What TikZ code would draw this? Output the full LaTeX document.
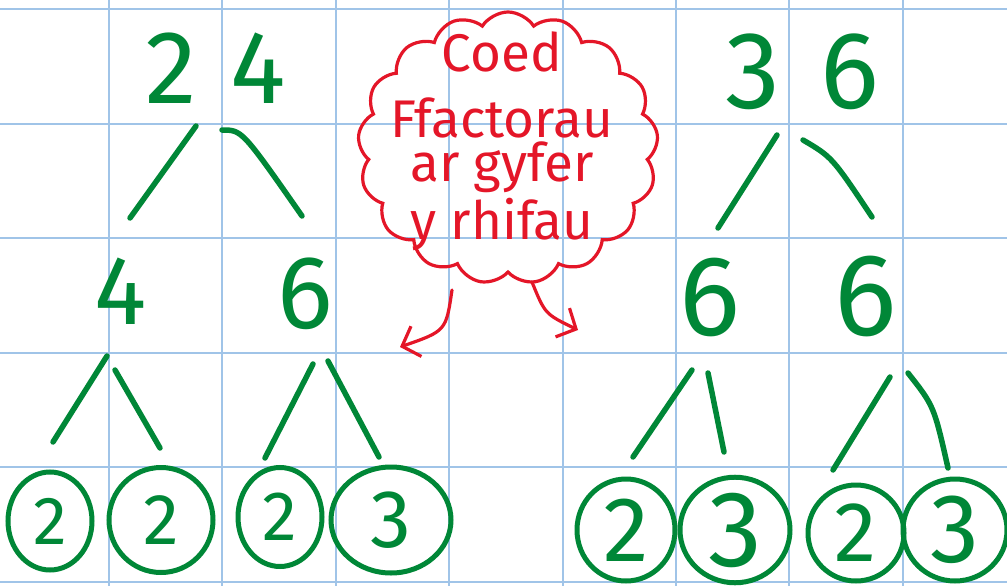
\documentclass[tikz,border=0pt]{standalone}
\usepackage{fontspec}
\setmainfont{Fira Sans}
\usetikzlibrary{shapes.geometric,shapes.symbols,arrows.meta,calc}
\definecolor{gridblue}{RGB}{160,196,232}
\definecolor{pen}{RGB}{0,135,55}
\definecolor{redpen}{RGB}{228,22,40}
\begin{document}
\begin{tikzpicture}[x=1pt,y=-1pt,
  gridline/.style={draw=gridblue, line width=2pt},
  num/.style={text=pen, inner sep=0pt, font=\fontsize{#1}{#1}\selectfont},
  branch/.style={draw=pen, line width=5.5pt, line cap=round},
  leaf/.style n args={3}{ellipse, draw=pen, line width=5pt, inner sep=0pt,
     minimum width=#1, minimum height=#2, text=pen, font=\fontsize{#3}{#3}\selectfont},
  redline/.style={draw=redpen, line width=3.2pt, line cap=round, line join=round},
  barb/.style={-{Straight Barb[length=15pt,width=32pt]}}]
\fill[white] (0,0) rectangle (1007,586);
\useasboundingbox (0,0) rectangle (1007,586);
% grid
\foreach \x in {109,222.4,335.8,449.2,562.6,676,789.4,902.8}
  \draw[gridline] (\x,0) -- (\x,586);
\foreach \y in {9,123.6,238.2,352.8,467.4,582}
  \draw[gridline] (0,\y) -- (1007,\y);

% left tree
\node[num=104] (t24) at (216,68) {2\kern34pt4};
\node[num=98] (n4) at (121,291) {4};
\node[num=104] (n6a) at (305,294) {6};
\node[leaf={84pt}{98pt}{68}] (l1) at (50,521) {2};
\node[leaf={104pt}{105pt}{72}] (l2) at (161,520) {2};
\node[leaf={84pt}{99pt}{70}] (l3) at (280,517) {2};
\node[leaf={120pt}{106pt}{82}] (l4) at (391,520) {3};

\draw[branch] ($(t24)+(-20,58)$) -- ($(n4)+(9,-73)$);
\draw[branch] ($(t24)+(6,62)$) .. controls ($(t24)+(26,62)$) .. ($(n6a)+(-3,-78)$);
\draw[branch] ($(n4)+(-14,65)$) -- ($(l1)+(3,-79)$);
\draw[branch] ($(n4)+(-6,79)$) -- ($(l2)+(-1,-72)$);
\draw[branch] ($(n6a)+(8,70)$) -- ($(l3)+(-15,-59)$);
\draw[branch] ($(n6a)+(23,67)$) -- ($(l4)+(-12,-63)$);

% right tree
\node[num=110] (t36) at (802,72) {3\kern40pt6};
\node[num=114] (n6b) at (710,297) {6};
\node[num=117] (n6c) at (866,296) {6};
\node[leaf={98pt}{102pt}{92}] (r1) at (626,530) {2};
\node[leaf={110pt}{100pt}{108}] (r2) at (735,530) {3};
\node[leaf={96pt}{96pt}{85}] (r3) at (856,533) {2};
\node[leaf={104pt}{102pt}{98}] (r4) at (955,530) {3};

\draw[branch] ($(t36)+(-25,63)$) -- ($(n6b)+(8,-69)$);
\draw[branch] ($(t36)+(1,68)$) .. controls ($(t36)+(30,85)$) .. ($(n6c)+(6,-79)$);
\draw[branch] ($(n6b)+(-18,73)$) -- ($(r1)+(7,-73)$);
\draw[branch] ($(n6b)+(-2,76)$) -- ($(r2)+(-11,-78)$);
\draw[branch] ($(n6c)+(24,81)$) -- ($(r3)+(-23,-63)$);
\draw[branch] ($(n6c)+(42,77)$) .. controls ($(n6c)+(68,110)$) .. ($(r4)+(-7,-62)$);

% cloud
\node[cloud, cloud puffs=17, cloud puff arc=115, aspect=1.1, draw=redpen,
      line width=3.2pt, minimum width=300pt, minimum height=272pt, inner sep=0pt]
      (cloud) at (508,148) {};
\node[text=redpen, align=center, anchor=north, inner sep=0pt,
      font=\fontsize{53}{54}\selectfont] (label) at (502,32)
      {Coed\\[12pt]Ffactorau\\[-10pt]ar gyfer\\[4pt]y rhifau};
\coordinate (tipL) at (400,347);
\coordinate (tipR) at (578,330);
\draw[redline, barb] ($(cloud.center)+(-56,142)$) .. controls (446,331) .. (tipL);
\draw[redline, barb] ($(cloud.center)+(24,134)$) .. controls (545,314) .. (tipR);
\end{tikzpicture}
\end{document}
